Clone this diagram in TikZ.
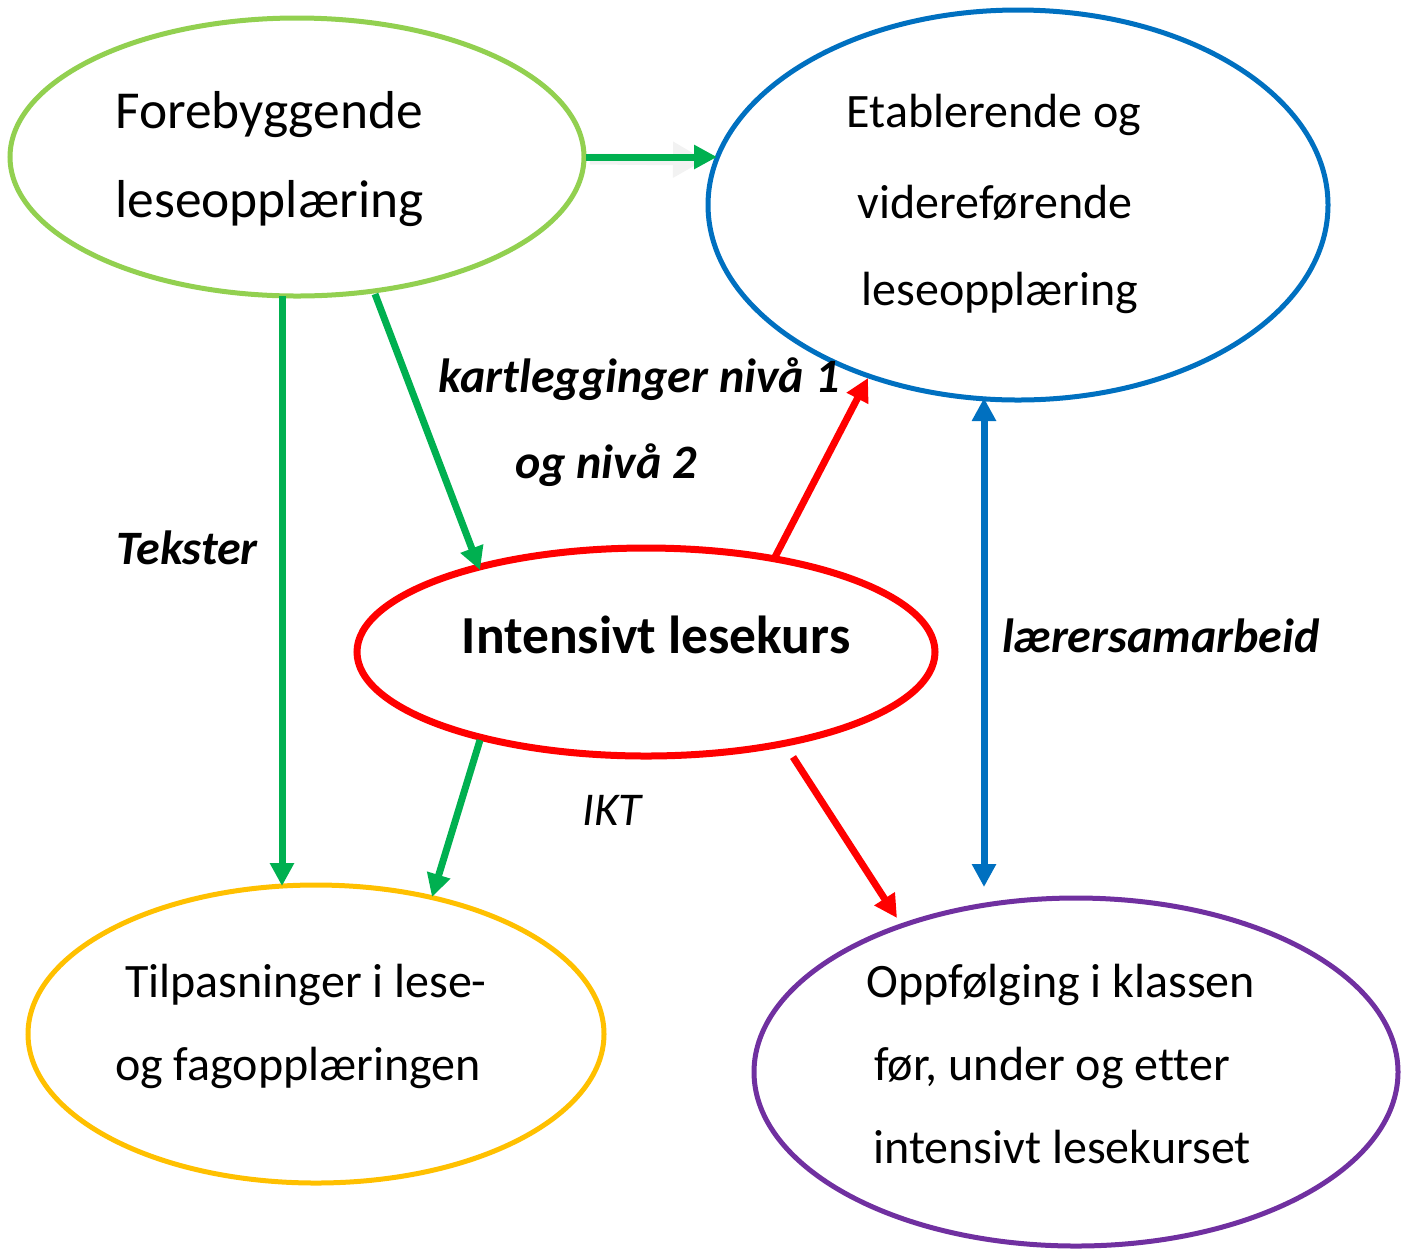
\documentclass[tikz,border=0pt]{standalone}
\usepackage{fontspec}
\setmainfont{Carlito}[Ligatures=NoCommon]
\usetikzlibrary{arrows.meta,shapes.geometric}
\definecolor{lgreen}{HTML}{92D050}
\definecolor{dgreen}{HTML}{00B050}
\definecolor{mblue}{HTML}{0070C0}
\definecolor{mred}{HTML}{FF0000}
\definecolor{myellow}{HTML}{FFC000}
\definecolor{mpurple}{HTML}{7030A0}
\definecolor{ghostgray}{HTML}{F2F2F2}
\begin{document}
\begin{tikzpicture}[x=0.5pt,y=-0.5pt,
  ell/.style={ellipse, draw, inner sep=0pt, line width=2.5pt},
  txt/.style={inner sep=0pt, anchor=base, font=\fontsize{24pt}{28pt}\selectfont},
  bigtxt/.style={inner sep=0pt, anchor=base, font=\fontsize{26.7pt}{30pt}\selectfont},
  lbl/.style={inner sep=0pt, anchor=base, font=\fontsize{24pt}{28pt}\selectfont\bfseries\itshape},
  tip/.style={-{Triangle[length=11.5pt,width=11.5pt]}},
  garrow/.style={tip, draw=dgreen, line width=3.5pt},
  rarrow/.style={tip, draw=mred, line width=3.5pt},
  barrow/.style={{Triangle[length=11.5pt,width=11.5pt]}-{Triangle[length=11.5pt,width=11.5pt]}, draw=mblue, line width=3.5pt},
  ghost/.style={-{Triangle[length=16pt,width=17pt]}, draw=ghostgray, line width=5.5pt}
]
\useasboundingbox (0,0) rectangle (1411,1249);

% ellipses
\node[ell, draw=lgreen, minimum width=287pt, minimum height=139pt] (fore) at (297,157) {};
\node[ell, draw=mblue, minimum width=310pt, minimum height=195pt] (etab) at (1018,205) {};
\node[ell, draw=mred, line width=3.5pt, minimum width=289pt, minimum height=104pt] (int) at (646,652) {};
\node[ell, draw=myellow, minimum width=288pt, minimum height=149pt] (tilp) at (316,1034) {};
\node[ell, draw=mpurple, minimum width=322pt, minimum height=174pt] (opp) at (1076,1072) {};

% texts
\node[bigtxt, anchor=base west] (fa) at (115,128) {Forebyggende};
\node[bigtxt, anchor=base west] (fb) at (115,217) {leseopplæring};

\node[txt] (ea) at (994,127) {Etablerende og};
\node[txt] (eb) at (995,218) {videreførende};
\node[txt] (ec) at (1000,305) {leseopplæring};

\node[bigtxt, font=\fontsize{26.75pt}{30pt}\selectfont\bfseries] (ia) at (656,653) {Intensivt lesekurs};

\node[txt] (ta) at (306,997) {Tilpasninger i lese-};
\node[txt] (tb) at (298,1080) {og fagopplæringen};

\node[txt] (oa) at (1061,997) {Oppfølging i klassen};
\node[txt] (ob) at (1052,1080) {før, under og etter};
\node[txt] (oc) at (1062,1163) {intensivt lesekurset};

% labels
\node[lbl] (la) at (639,392) {kartlegginger nivå 1};
\node[lbl] (lb) at (606,478) {og nivå 2};
\node[lbl] (lc) at (187,564) {Tekster};
\node[lbl] (ld) at (1161,652) {lærersamarbeid};
\node[inner sep=0pt, anchor=base, font=\fontsize{23.5pt}{28pt}\selectfont\itshape] (le) at (612,825) {IKT};

% connectors
\draw[ghost] ([xshift=146.5pt,yshift=-1pt]fore.center) -- ([xshift=-156.5pt,yshift=22.5pt]etab.center);
\draw[garrow] ([xshift=144.5pt]fore.center) -- ([xshift=-150.5pt,yshift=24pt]etab.center);
\draw[garrow] ([xshift=-7.5pt,yshift=-69.5pt]fore.center) -- ([xshift=-7.5pt,yshift=74pt]tilp.center -| fore.center);
\draw[garrow] ([xshift=39pt,yshift=-68.5pt]fore.center) -- ([xshift=-83pt,yshift=41pt]int.center);
\draw[garrow] ([xshift=-83pt,yshift=-44pt]int.center) -- ([xshift=58pt,yshift=68.5pt]tilp.center);
\draw[rarrow] ([xshift=64.5pt,yshift=47.5pt]int.center) -- ([xshift=-75pt,yshift=-86.5pt]etab.center);
\draw[rarrow] ([xshift=73.5pt,yshift=-52.5pt]int.center) -- ([xshift=-89.5pt,yshift=77pt]opp.center);
\draw[barrow] ([xshift=-17pt,yshift=-96.5pt]etab.center) -- ([xshift=-46pt,yshift=92.5pt]opp.center);
\end{tikzpicture}
\end{document}
